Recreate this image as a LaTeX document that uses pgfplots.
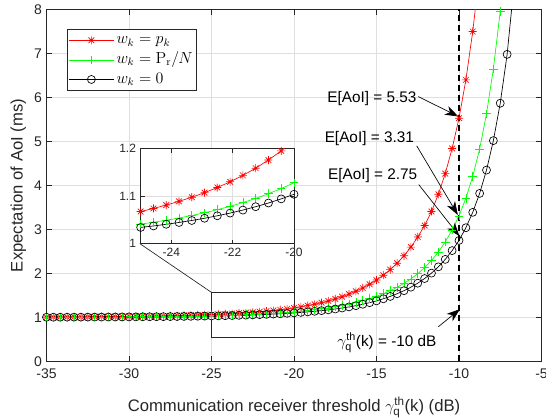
\documentclass[border=0pt]{standalone}
\usepackage[no-math]{fontspec}
\setmainfont{Liberation Sans}
\usepackage{amsmath}
\usepackage{pgfplots}
\usepackage{pgfplotstable}
\pgfplotsset{compat=1.18}
\usetikzlibrary{arrows.meta}

% eight-armed asterisk, as in the source figure
\pgfdeclareplotmark{ast8}{%
  \pgfpathmoveto{\pgfqpoint{-\pgfplotmarksize}{0pt}}\pgfpathlineto{\pgfqpoint{\pgfplotmarksize}{0pt}}%
  \pgfpathmoveto{\pgfqpoint{0pt}{-\pgfplotmarksize}}\pgfpathlineto{\pgfqpoint{0pt}{\pgfplotmarksize}}%
  \pgfpathmoveto{\pgfqpoint{-0.707\pgfplotmarksize}{-0.707\pgfplotmarksize}}\pgfpathlineto{\pgfqpoint{0.707\pgfplotmarksize}{0.707\pgfplotmarksize}}%
  \pgfpathmoveto{\pgfqpoint{-0.707\pgfplotmarksize}{0.707\pgfplotmarksize}}\pgfpathlineto{\pgfqpoint{0.707\pgfplotmarksize}{-0.707\pgfplotmarksize}}%
  \pgfusepathqstroke}

% w_k = p_k
\pgfplotstableread{
x y
-35 1.0101
-34.583 1.0108
-34.167 1.0116
-33.75 1.0124
-33.333 1.0133
-32.917 1.0143
-32.5 1.0154
-32.083 1.0166
-31.667 1.0179
-31.25 1.0193
-30.833 1.0209
-30.417 1.0226
-30 1.0244
-29.583 1.0264
-29.167 1.0287
-28.75 1.0311
-28.333 1.0338
-27.917 1.0367
-27.5 1.0399
-27.083 1.0435
-26.667 1.0474
-26.25 1.0517
-25.833 1.0565
-25.417 1.0617
-25 1.0675
-24.583 1.0739
-24.167 1.0810
-23.75 1.0889
-23.333 1.0976
-22.917 1.1072
-22.5 1.1180
-22.083 1.1300
-21.667 1.1435
-21.25 1.1587
-20.833 1.1759
-20.417 1.1952
-20 1.2171
-19.583 1.2415
-19.167 1.2691
-18.75 1.3003
-18.333 1.3356
-17.917 1.3755
-17.5 1.4208
-17.083 1.4721
-16.667 1.5305
-16.25 1.5960
-15.833 1.6705
-15.417 1.7550
-15 1.8510
-14.583 1.9610
-14.167 2.0872
-13.75 2.2334
-13.333 2.4030
-12.917 2.6000
-12.5 2.8294
-12.083 3.09
-11.667 3.41
-11.25 3.80
-10.833 4.27
-10.417 4.84
-10 5.53
-9.583 6.40
-9.167 7.50
-8.75 8.88
}\redtab

% w_k = P_r/N
\pgfplotstableread{
x y
-35 1.0063
-34.583 1.0067
-34.167 1.0072
-33.75 1.0077
-33.333 1.0083
-32.917 1.0089
-32.5 1.0095
-32.083 1.0102
-31.667 1.0110
-31.25 1.0119
-30.833 1.0128
-30.417 1.0139
-30 1.0150
-29.583 1.0162
-29.167 1.0176
-28.75 1.0190
-28.333 1.0207
-27.917 1.0224
-27.5 1.0244
-27.083 1.0265
-26.667 1.0289
-26.25 1.0315
-25.833 1.0344
-25.417 1.0375
-25 1.0410
-24.583 1.0449
-24.167 1.0491
-23.75 1.0538
-23.333 1.0591
-22.917 1.0648
-22.5 1.0713
-22.083 1.0784
-21.667 1.0863
-21.25 1.0951
-20.833 1.1049
-20.417 1.1158
-20 1.1280
-19.583 1.142
-19.167 1.158
-18.75 1.176
-18.333 1.197
-17.917 1.219
-17.5 1.245
-17.083 1.273
-16.667 1.306
-16.25 1.342
-15.833 1.383
-15.417 1.430
-15 1.482
-14.583 1.541
-14.167 1.609
-13.75 1.687
-13.333 1.776
-12.917 1.878
-12.5 1.996
-12.083 2.133
-11.667 2.296
-11.25 2.489
-10.833 2.718
-10.417 2.988
-10 3.310
-9.583 3.71
-9.167 4.21
-8.75 4.83
-8.333 5.63
-7.917 6.65
-7.5 7.96
-7.083 9.66
}\greentab

% w_k = 0
\pgfplotstableread{
x y
-35 1.0054
-34.583 1.0058
-34.167 1.0062
-33.75 1.0066
-33.333 1.0071
-32.917 1.0076
-32.5 1.0082
-32.083 1.0088
-31.667 1.0094
-31.25 1.0101
-30.833 1.0109
-30.417 1.0118
-30 1.0127
-29.583 1.0137
-29.167 1.0148
-28.75 1.0161
-28.333 1.0174
-27.917 1.0188
-27.5 1.0204
-27.083 1.0222
-26.667 1.0241
-26.25 1.0263
-25.833 1.0286
-25.417 1.0312
-25 1.0340
-24.583 1.0371
-24.167 1.0406
-23.75 1.0444
-23.333 1.0486
-22.917 1.0533
-22.5 1.0585
-22.083 1.0642
-21.667 1.0705
-21.25 1.0776
-20.833 1.0854
-20.417 1.0941
-20 1.1038
-19.583 1.1147
-19.167 1.1270
-18.75 1.1407
-18.333 1.1562
-17.917 1.1736
-17.5 1.1932
-17.083 1.2154
-16.667 1.2404
-16.25 1.2687
-15.833 1.3007
-15.417 1.3371
-15 1.3784
-14.583 1.4253
-14.167 1.4787
-13.75 1.5397
-13.333 1.6092
-12.917 1.6887
-12.5 1.7796
-12.083 1.8851
-11.667 2.0080
-11.25 2.1514
-10.833 2.3205
-10.417 2.5204
-10 2.7507
-9.583 3.04
-9.167 3.39
-8.75 3.82
-8.333 4.35
-7.917 5.02
-7.5 5.87
-7.083 6.98
-6.667 8.55
}\blacktab

\pgfplotsset{
  redline/.style={red, line width=0.5pt, mark=ast8, mark size=3pt, mark options={solid}},
  greenline/.style={green, line width=0.5pt, mark=+, mark size=3.2pt, mark options={solid}},
  blackline/.style={black, line width=0.5pt, mark=o, mark size=3pt, mark options={solid}},
}

\begin{document}
\begin{tikzpicture}
\begin{axis}[
  name=main,
  scale only axis,
  width=371.25pt, height=264pt,
  xmin=-35, xmax=-5, ymin=0, ymax=8,
  xtick={-35,-30,...,-5}, ytick={0,1,...,8},
  grid=major,
  grid style={gray!25, line width=0.5pt},
  axis line style={black!85, line width=0.5pt},
  tick style={black!85, line width=0.5pt},
  major tick length=4pt,
  /pgf/number format/assume math mode=true,
  ticklabel style={font=\fontsize{10.5}{12}\selectfont, text=black!85},
  xticklabel style={yshift=-2pt},
  xlabel={Communication receiver threshold $\gamma^{\text{th}}_{\text{q}}$(k) (dB)},
  ylabel={Expectation of AoI (ms)},
  label style={font=\fontsize{12.5}{14}\selectfont, text=black!85},
  xlabel style={yshift=-7pt},
  ylabel style={yshift=-1pt},
  legend style={at={(0.041,0.945)}, anchor=north west, draw=black!85, fill=white,
    font=\fontsize{12}{14}\selectfont, inner sep=1pt, row sep=0pt,
    nodes={text height=8.5pt, text depth=3pt, inner sep=1.6pt}},
  legend cell align=left,
  legend image code/.code={\draw[mark repeat=2,mark phase=2] plot coordinates {(0pt,0pt) (17pt,0pt) (34pt,0pt)};},
]
\addplot[redline] table[x=x,y=y]{\redtab};
\addlegendentry{$w_k = p_k$}
\addplot[greenline] table[x=x,y=y]{\greentab};
\addlegendentry{$w_k = \mathrm{P}_{\mathrm{r}}/N$}
\addplot[blackline] table[x=x,y=y]{\blacktab};
\addlegendentry{$w_k = 0$}

% threshold line
\addplot[black, line width=1.1pt, dash pattern=on 5pt off 2.5pt, forget plot] coordinates {(-10,0) (-10,8)};

% zoom box and connectors
\draw[black!85, line width=0.5pt] (axis cs:-25,0.56) rectangle (axis cs:-20,1.57);
\draw[black!85, line width=0.5pt] (axis cs:-25,1.57) -- (axis cs:-29.35,2.68);
\draw[black!85, line width=0.5pt] (axis cs:-20,1.57) -- (axis cs:-20,2.68);
\coordinate (insetSE) at (axis cs:-20,2.68);

% annotations
\tikzset{ann/.style={anchor=east, inner sep=0pt, font=\fontsize{11.5}{13}\selectfont},
  arr/.style={-{Stealth[length=10pt,width=7pt,inset=3pt]}, line width=0.5pt}}
\node[ann] at (axis cs:-12.56,5.98) {E[AoI] = 5.53};
\node[ann] at (axis cs:-12.72,5.07) {E[AoI] = 3.31};
\node[ann] at (axis cs:-12.52,4.22) {E[AoI] = 2.75};
\node[ann] at (axis cs:-11.35,0.42) {$\gamma^{\text{th}}_{\text{q}}$(k) = -10 dB};
\draw[arr] (axis cs:-12.47,6.02) -- (axis cs:-10.04,5.57);
\draw[arr] (axis cs:-12.56,4.90) -- (axis cs:-10.07,3.33);
\draw[arr] (axis cs:-12.44,4.02) -- (axis cs:-9.98,2.85);
\draw[arr] (axis cs:-11.25,0.79) -- (axis cs:-9.94,1.19);
\end{axis}

\begin{axis}[
  at={(insetSE)}, anchor=south east,
  scale only axis,
  width=115pt, height=71.25pt,
  xmin=-25, xmax=-20, ymin=1, ymax=1.2,
  xtick={-24,-22,-20}, ytick={1,1.1,1.2},
  restrict x to domain=-25:-20,
  grid=major,
  grid style={gray!25, line width=0.5pt},
  axis line style={black!85, line width=0.5pt},
  tick style={black!85, line width=0.5pt},
  major tick length=3pt,
  axis background/.style={fill=white},
  /pgf/number format/assume math mode=true,
  ticklabel style={font=\fontsize{9}{10}\selectfont, text=black!85},
]
\addplot[redline] table[x=x,y=y]{\redtab};
\addplot[greenline] table[x=x,y=y]{\greentab};
\addplot[blackline] table[x=x,y=y]{\blacktab};
\end{axis}

\pgfresetboundingbox
\path[use as bounding box] ([shift={(-34.875pt,-43.875pt)}]main.south west) rectangle ([shift={(3.375pt,7.125pt)}]main.north east);
\end{tikzpicture}
\end{document}
